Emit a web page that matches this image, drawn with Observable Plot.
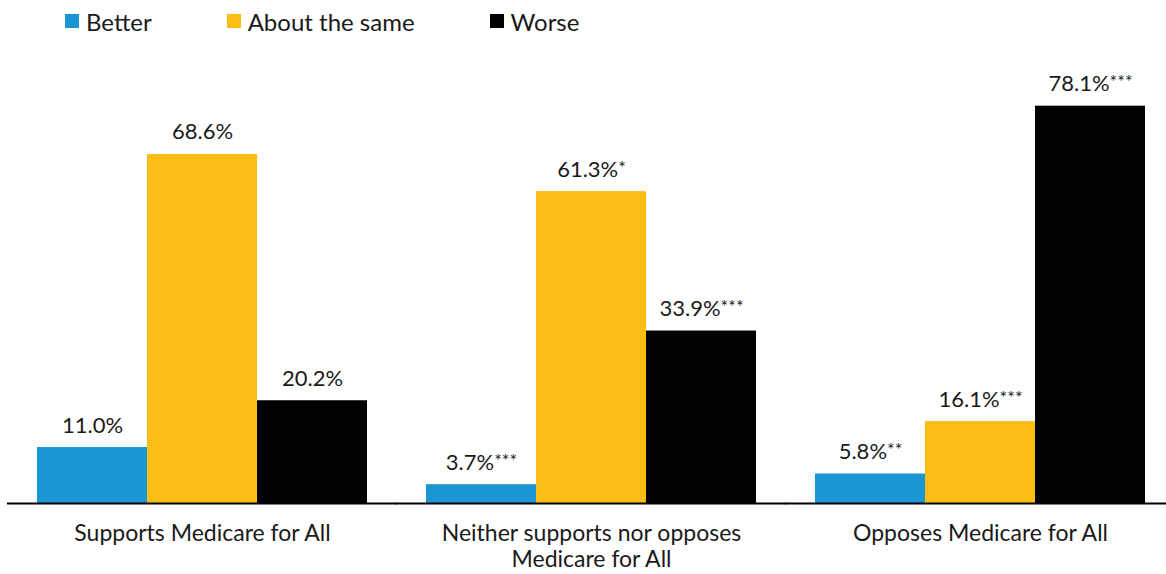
<!DOCTYPE html>
<html>
<head>
<meta charset="utf-8">
<script src="https://cdn.jsdelivr.net/npm/d3@7"></script>
<script src="https://cdn.jsdelivr.net/npm/@observablehq/plot@0.6"></script>
<style>
  html, body { margin: 0; padding: 0; background: #fff; overflow: hidden; }
  #wrap { width: 1166px; height: 574px; overflow: hidden; font-family: Lato, sans-serif; color: #1a1a1a; }
  #legend { height: 42px; display: flex; align-items: center; padding-left: 65px; font-size: 24px; }
  .item { display: flex; align-items: center; margin-right: 75px; }
  .sw { width: 14px; height: 14px; margin-right: 7px; }
  #chart svg { max-width: none !important; }
</style>
</head>
<body>
<div id="wrap">
  <div id="legend"></div>
  <div id="chart"></div>
</div>
<script>
const groups = ["Supports Medicare for All", "Neither supports nor opposes\nMedicare for All", "Opposes Medicare for All"];
const series = ["Better", "About the same", "Worse"];
const better = [11.0, 3.7, 5.8];
const same = [68.6, 61.3, 16.1];
const worse = [20.2, 33.9, 78.1];
const betterSig = ["", "***", "**"];
const sameSig = ["", "*", "***"];
const worseSig = ["", "***", "***"];
const colors = ["#1a96d4", "#fbbe15", "#000000"];

const values = [better, same, worse];
const sigs = [betterSig, sameSig, worseSig];
const data = [];
groups.forEach((g, gi) => {
  series.forEach((s, si) => {
    data.push({group: g, series: s, value: values[si][gi], label: values[si][gi].toFixed(1) + "%" + sigs[si][gi]});
  });
});

// Legend
const legend = document.getElementById("legend");
series.forEach((s, i) => {
  const it = document.createElement("div");
  it.className = "item";
  const sw = document.createElement("span");
  sw.className = "sw";
  sw.style.background = colors[i];
  const t = document.createElement("span");
  t.textContent = s;
  it.appendChild(sw); it.appendChild(t);
  legend.appendChild(it);
});

const chart = Plot.plot({
  width: 1175,
  height: 532,
  marginLeft: 8,
  marginRight: 0,
  marginTop: 54,
  marginBottom: 71,
  style: {fontFamily: "Lato, sans-serif", fontSize: "22px", color: "#1a1a1a", background: "#fff", maxWidth: "none"},
  fx: {domain: groups, paddingInner: 0.1465, paddingOuter: 0.072, label: null, axis: null},
  x: {domain: series, padding: 0, axis: null},
  y: {domain: [0, 80], axis: null},
  color: {domain: series, range: colors},
  marks: [
    Plot.barY(data, {fx: "group", x: "series", y: "value", fill: "series"}),
    Plot.ruleY([0], {stroke: "#000", strokeWidth: 2, insetLeft: -29, insetRight: -29}),
    Plot.text(data, {fx: "group", x: "series", y: "value", text: "label", lineAnchor: "bottom", dy: -15, fontSize: 22, fill: "#1a1a1a"}),
    Plot.axisFx({anchor: "bottom", tickSize: 0, tickPadding: 19, fontSize: 23, lineHeight: 1.12, label: null, color: "#1a1a1a"})
  ]
});
chart.style.maxWidth = "none";
document.getElementById("chart").appendChild(chart);

// superscript significance stars
chart.querySelectorAll('g[aria-label="text"] text').forEach(t => {
  const m = t.textContent.match(/^(.*?)(\*+)$/);
  if (m) {
    t.textContent = m[1];
    const ts = document.createElementNS("http://www.w3.org/2000/svg", "tspan");
    ts.setAttribute("font-size", "18");
    ts.setAttribute("dy", "-3");
    ts.textContent = m[2];
    t.appendChild(ts);
  }
});
</script>
</body>
</html>
